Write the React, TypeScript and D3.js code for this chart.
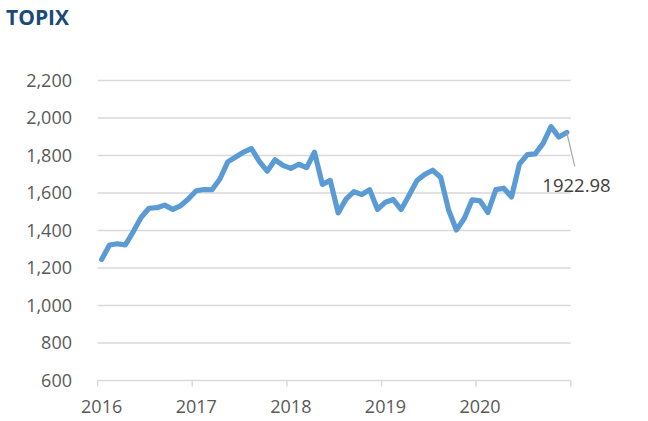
import React from 'react'
import * as d3 from 'd3'

// TOPIX monthly closes, Jun 2016 - May 2021
const values2016 = [1245.8, 1322.7, 1329.5, 1322.8, 1393.0, 1469.4, 1518.6]
const values2017 = [1521.7, 1535.3, 1512.6, 1531.8, 1568.4, 1611.9, 1618.6, 1617.4, 1674.8, 1766.0, 1792.1, 1817.6]
const values2018 = [1836.7, 1768.2, 1716.3, 1777.2, 1747.5, 1730.9, 1753.3, 1735.4, 1817.3, 1646.1, 1667.5, 1494.1]
const values2019 = [1567.5, 1607.7, 1591.6, 1617.9, 1512.3, 1551.1, 1565.1, 1511.9, 1587.8, 1667.0, 1699.4, 1721.4]
const values2020 = [1684.4, 1510.9, 1403.0, 1464.0, 1563.7, 1558.8, 1496.1, 1618.2, 1625.5, 1579.3, 1754.9, 1804.7]
const values2021 = [1808.8, 1864.5, 1954.0, 1898.2, 1922.98]

const yearLabels = ['2016', '2017', '2018', '2019', '2020']
const yTicks = [600, 800, 1000, 1200, 1400, 1600, 1800, 2000, 2200]
const lastLabel = '1922.98'

const values = [...values2016, ...values2017, ...values2018, ...values2019, ...values2020, ...values2021]

const W = 648
const H = 421
const left = 97.7
const right = 570.7
const top = 80.5
const bottom = 380.5
const font = '"Open Sans", "Noto Sans", sans-serif'

const App = () => {
  const n = values.length
  const x = d3.scaleLinear().domain([0, n]).range([left, right])
  const y = d3.scaleLinear().domain([600, 2200]).range([bottom, top])
  const fmt = d3.format(',')

  const line = d3
    .line<number>()
    .x((_, i) => x(i + 0.5))
    .y((d) => y(d))

  const tickIdx = d3.range(0, n + 1, 12)
  const lx = x(n - 0.5)
  const ly = y(values[n - 1])

  return (
    <svg width={W} height={H} style={{ position: 'absolute', left: 0, top: 0 }} fontFamily={font}>
      <rect width={W} height={H} fill="#fff" />
      <text x={6} y={25} fontSize={21} fontWeight="bold" fill="#1B4A7A">
        TOPIX
      </text>

      {yTicks.map((t) => (
        <g key={t}>
          {t > 600 && <line x1={left} x2={right} y1={y(t)} y2={y(t)} stroke="#D9D9D9" strokeWidth={1.5} />}
          <text x={72} y={y(t)} dy="0.36em" textAnchor="end" fontSize={18} fill="#595959">
            {fmt(t)}
          </text>
        </g>
      ))}

      {/* category axis */}
      <line x1={left} x2={right} y1={bottom} y2={bottom} stroke="#D9D9D9" strokeWidth={1.5} />
      {tickIdx.map((i) => (
        <line key={i} x1={x(i)} x2={x(i)} y1={bottom} y2={bottom + 6} stroke="#D9D9D9" strokeWidth={1.5} />
      ))}
      {yearLabels.map((l, k) => (
        <text key={l} x={x(k * 12 + 0.5)} y={413} textAnchor="middle" fontSize={18} fill="#595959">
          {l}
        </text>
      ))}

      <path d={line(values) || ''} fill="none" stroke="#5B9BD5" strokeWidth={5.2} strokeLinejoin="round" strokeLinecap="round" />

      {/* last value callout */}
      <line x1={lx} y1={ly} x2={lx + 8} y2={ly + 34} stroke="#A6A6A6" strokeWidth={1.2} />
      <text x={576.5} y={191.5} textAnchor="middle" fontSize={18.5} fill="#404040">
        {lastLabel}
      </text>
    </svg>
  )
}

export default App
